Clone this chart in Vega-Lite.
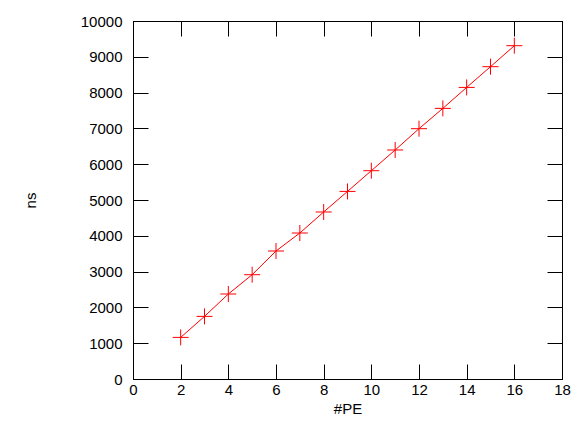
{
  "$schema": "https://vega.github.io/schema/vega-lite/v6.json",
  "width": 429,
  "height": 358,
  "autosize": {"type": "none"},
  "padding": {"left": 133, "top": 21, "right": 26, "bottom": 64},
  "background": "white",
  "config": {
    "view": {"stroke": "black", "strokeWidth": 1},
    "axis": {
      "grid": false,
      "domainColor": "black",
      "tickColor": "black",
      "labelColor": "black",
      "titleColor": "black",
      "labelFont": "Liberation Sans",
      "titleFont": "Liberation Sans",
      "labelFontSize": 15,
      "titleFontSize": 15,
      "titleFontWeight": "normal"
    }
  },
  "data": {
    "values": [
      {"pe": 2, "ns": 1162},
      {"pe": 3, "ns": 1749},
      {"pe": 4, "ns": 2374},
      {"pe": 5, "ns": 2913},
      {"pe": 6, "ns": 3575},
      {"pe": 7, "ns": 4078},
      {"pe": 8, "ns": 4665},
      {"pe": 9, "ns": 5240},
      {"pe": 10, "ns": 5818},
      {"pe": 11, "ns": 6397},
      {"pe": 12, "ns": 6992},
      {"pe": 13, "ns": 7559},
      {"pe": 14, "ns": 8145},
      {"pe": 15, "ns": 8724},
      {"pe": 16, "ns": 9310}
    ]
  },
  "resolve": {"axis": {"x": "independent", "y": "independent"}},
  "layer": [
    {
      "mark": {"type": "line", "color": "#ff0000", "strokeWidth": 1},
      "encoding": {
        "x": {
          "field": "pe", "type": "quantitative",
          "scale": {"domain": [0, 18], "nice": false, "zero": false},
          "axis": {"title": "#PE", "format": "d", "values": [0, 2, 4, 6, 8, 10, 12, 14, 16, 18], "tickSize": -15, "labelPadding": 18, "titlePadding": 4, "labelFlush": false}
        },
        "y": {
          "field": "ns", "type": "quantitative",
          "scale": {"domain": [0, 10000], "nice": false, "zero": false},
          "axis": {"title": "ns", "format": "d", "values": [0, 1000, 2000, 3000, 4000, 5000, 6000, 7000, 8000, 9000, 10000], "tickSize": -15, "labelPadding": 26, "titlePadding": 42, "labelFlush": false}
        }
      }
    },
    {
      "mark": {"type": "point", "shape": "M-1,0L1,0M0,-1L0,1", "size": 256, "filled": false, "color": "#ff0000", "strokeWidth": 1, "opacity": 1},
      "encoding": {
        "x": {
          "field": "pe", "type": "quantitative",
          "scale": {"domain": [0, 18], "nice": false, "zero": false},
          "axis": {"orient": "top", "title": null, "labels": false, "values": [0, 2, 4, 6, 8, 10, 12, 14, 16, 18], "tickSize": -15}
        },
        "y": {
          "field": "ns", "type": "quantitative",
          "scale": {"domain": [0, 10000], "nice": false, "zero": false},
          "axis": {"orient": "right", "title": null, "labels": false, "values": [0, 1000, 2000, 3000, 4000, 5000, 6000, 7000, 8000, 9000, 10000], "tickSize": -15}
        }
      }
    }
  ]
}
